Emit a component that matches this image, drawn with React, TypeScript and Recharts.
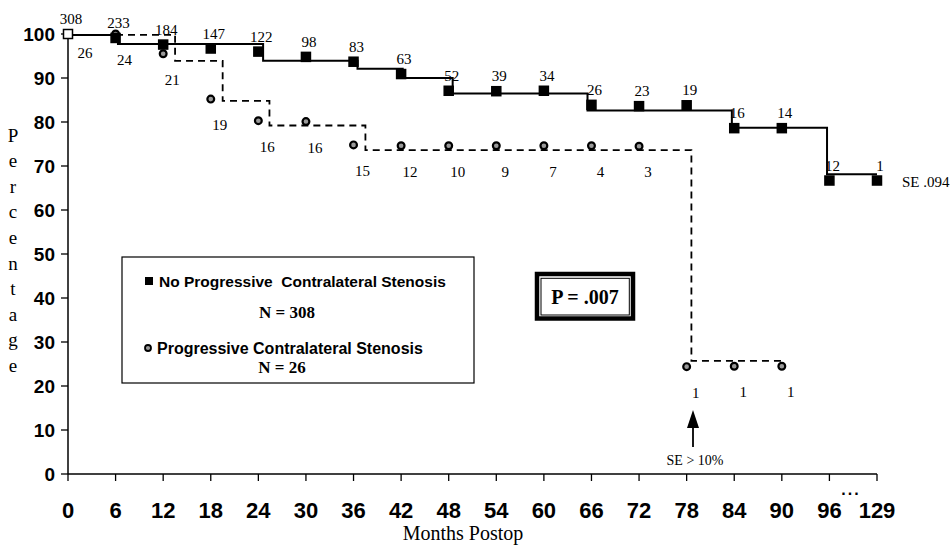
import React from 'react';
import { ComposedChart, Line, Scatter, XAxis, YAxis } from 'recharts';

// survival estimates read at each 6-month interval (percent) and numbers at risk
const noProgMonths = [0, 6, 12, 18, 24, 30, 36, 42, 48, 54, 60, 66, 72, 78, 84, 90, 96, 129];
const noProgPct = [100, 99.1, 97.6, 96.7, 96.0, 94.8, 93.7, 90.9, 87.1, 87.0, 87.1, 83.9, 83.6, 83.8, 78.6, 78.6, 66.7, 66.7];
const noProgAtRisk = [308, 233, 184, 147, 122, 98, 83, 63, 52, 39, 34, 26, 23, 19, 16, 14, 12, 1];

const progMonths = [0, 6, 12, 18, 24, 30, 36, 42, 48, 54, 60, 66, 72, 78, 84, 90];
const progPct = [100, 100, 95.5, 85.2, 80.3, 80.1, 74.8, 74.6, 74.6, 74.6, 74.6, 74.6, 74.5, 24.4, 24.5, 24.5];
const progAtRisk = [26, 24, 21, 19, 16, 16, 15, 12, 10, 9, 7, 4, 3, 1, 1, 1];

// step curves (where the curve drops)
const noProgStepMonths = [0, 6.3, 24.6, 36.5, 42.2, 48.5, 65.5, 83.7, 95.7, 129];
const noProgStepPct = [99.8, 97.7, 93.9, 92.1, 90.0, 86.5, 82.6, 78.7, 68.1, 68.1];
const progStepMonths = [0, 13.5, 19.5, 25.4, 37.5, 78.6, 90];
const progStepPct = [99.8, 93.9, 84.8, 79.2, 73.6, 25.7, 25.7];

const xTickMonths = [0, 6, 12, 18, 24, 30, 36, 42, 48, 54, 60, 66, 72, 78, 84, 90, 96, 129];
const yTicks = [0, 10, 20, 30, 40, 50, 60, 70, 80, 90, 100];

const SANS = "'Liberation Sans', Arial, sans-serif";
const SERIF = "'Liberation Serif', 'Times New Roman', serif";

// axis is broken after 96: 96..129 squeezed into one 6-month slot
const toPos = (m: number) => (m <= 96 ? m : 96 + ((m - 96) * 6) / 33);
const xTickPos = xTickMonths.map(toPos);

const noProgPoints = noProgMonths.map((m, i) => ({ x: toPos(m), y: noProgPct[i], n: noProgAtRisk[i] }));
const progPoints = progMonths.map((m, i) => ({ x: toPos(m), y: progPct[i], n: progAtRisk[i] }));
const noProgStep = noProgStepMonths.map((m, i) => ({ x: toPos(m), y: noProgStepPct[i] }));
const progStep = progStepMonths.map((m, i) => ({ x: toPos(m), y: progStepPct[i] }));

const SquareMark = (props: any) => {
  const { cx, cy, payload } = props;
  const hollow = payload.x === 0;
  return (
    <g>
      <rect x={cx - 4.5} y={cy - 4.5} width={9} height={9} fill={hollow ? '#fff' : '#000'} stroke="#000" strokeWidth={1.5} />
      <text x={cx + 3} y={cy - 15} textAnchor="middle" dominantBaseline="central" fontFamily={SERIF} fontSize={15} fill="#000">
        {payload.n}
      </text>
    </g>
  );
};

const CircleMark = (props: any) => {
  const { cx, cy, payload } = props;
  const first = payload.x === 0;
  return (
    <g>
      <circle cx={cx} cy={cy} r={3.4} fill="#9a9a9a" stroke="#000" strokeWidth={2.2} />
      <text x={cx + (first ? 17 : 9)} y={cy + (first ? 19 : 26)} textAnchor="middle" dominantBaseline="central" fontFamily={SERIF} fontSize={15} fill="#000">
        {payload.n}
      </text>
    </g>
  );
};

const title = 'Percentage';

export default function App() {
  return (
    <div style={{ position: 'absolute', left: 0, top: 0, width: 952, height: 545, background: '#fff' }}>
      <ComposedChart width={952} height={545} margin={{ top: 34, right: 75, bottom: 0, left: 0 }}>
        <XAxis
          dataKey="x"
          type="number"
          domain={[0, 102]}
          ticks={xTickPos}
          tickFormatter={(v: number) => String(xTickMonths[xTickPos.indexOf(v)] ?? v)}
          height={71}
          tickSize={7}
          tickMargin={21}
          axisLine={{ stroke: '#000', strokeWidth: 1.5 }}
          tickLine={{ stroke: '#000', strokeWidth: 1.3 }}
          tick={{ fontFamily: SANS, fontSize: 22, fontWeight: 'bold', fill: '#000' }}
          interval={0}
        />
        <YAxis
          dataKey="y"
          type="number"
          domain={[0, 100]}
          ticks={yTicks}
          width={68}
          tickSize={7}
          tickMargin={6}
          axisLine={{ stroke: '#000', strokeWidth: 1.5 }}
          tickLine={{ stroke: '#000', strokeWidth: 1.3 }}
          tick={{ fontFamily: SANS, fontSize: 19, fontWeight: 'bold', fill: '#000' }}
          interval={0}
        />
        <Line data={noProgStep} dataKey="y" type="stepAfter" stroke="#000" strokeWidth={2} dot={false} activeDot={false} isAnimationActive={false} />
        <Line data={progStep} dataKey="y" type="stepAfter" stroke="#000" strokeWidth={1.8} strokeDasharray="7 5" dot={false} activeDot={false} isAnimationActive={false} />
        <Scatter data={progPoints} dataKey="y" shape={CircleMark} isAnimationActive={false} />
        <Scatter data={noProgPoints} dataKey="y" shape={SquareMark} isAnimationActive={false} />
      </ComposedChart>

      <svg width={952} height={545} style={{ position: 'absolute', left: 0, top: 0, pointerEvents: 'none' }}>
        <text x={13} y={141.5} textAnchor="middle" fontFamily={SERIF} fontSize={19} fill="#000">
          {title.split('').map((c, i) => (
            <tspan key={i} x={13} dy={i === 0 ? 0 : 25.6}>{c}</tspan>
          ))}
        </text>
        <text x={463} y={533} textAnchor="middle" dominantBaseline="central" fontFamily={SERIF} fontSize={20} fill="#000">Months Postop</text>

        <rect x={122} y={257} width={352} height={126} fill="#fff" stroke="#000" strokeWidth={1.2} />
        <rect x={145} y={277} width={8} height={8} fill="#000" />
        <text x={159} y={281} dominantBaseline="central" fontFamily={SANS} fontSize={15.5} fontWeight="bold" fill="#000" style={{ whiteSpace: 'pre' }}>No Progressive  Contralateral Stenosis</text>
        <text x={287} y={312} textAnchor="middle" dominantBaseline="central" fontFamily={SERIF} fontSize={17} fontWeight="bold" fill="#000">N = 308</text>
        <circle cx={148} cy={348} r={3} fill="#9a9a9a" stroke="#000" strokeWidth={1.8} />
        <text x={157} y={348} dominantBaseline="central" fontFamily={SANS} fontSize={16} fontWeight="bold" fill="#000">Progressive Contralateral Stenosis</text>
        <text x={282} y={367} textAnchor="middle" dominantBaseline="central" fontFamily={SERIF} fontSize={17} fontWeight="bold" fill="#000">N = 26</text>

        <rect x={537} y={274} width={96} height={44.5} fill="#fff" stroke="#000" strokeWidth={4.5} />
        <rect x={541} y={278.3} width={88.3} height={36.7} fill="#fff" stroke="#000" strokeWidth={1} />
        <text x={585} y={297} textAnchor="middle" dominantBaseline="central" fontFamily={SERIF} fontSize={20} fontWeight="bold" fill="#000">P = .007</text>

        <text x={902} y={182} dominantBaseline="central" fontFamily={SERIF} fontSize={15} fill="#000">SE .094</text>

        <line x1={693} y1={447} x2={693} y2={425} stroke="#000" strokeWidth={1.8} />
        <polygon points="687,428 699,428 693,410" fill="#000" />
        <text x={695} y={460} textAnchor="middle" dominantBaseline="central" fontFamily={SERIF} fontSize={14} fill="#000">SE &gt; 10%</text>
        <text x={851} y={489} textAnchor="middle" dominantBaseline="central" fontFamily={SANS} fontSize={16} fontWeight="bold" fill="#000" letterSpacing={2}>...</text>
      </svg>
    </div>
  );
}
